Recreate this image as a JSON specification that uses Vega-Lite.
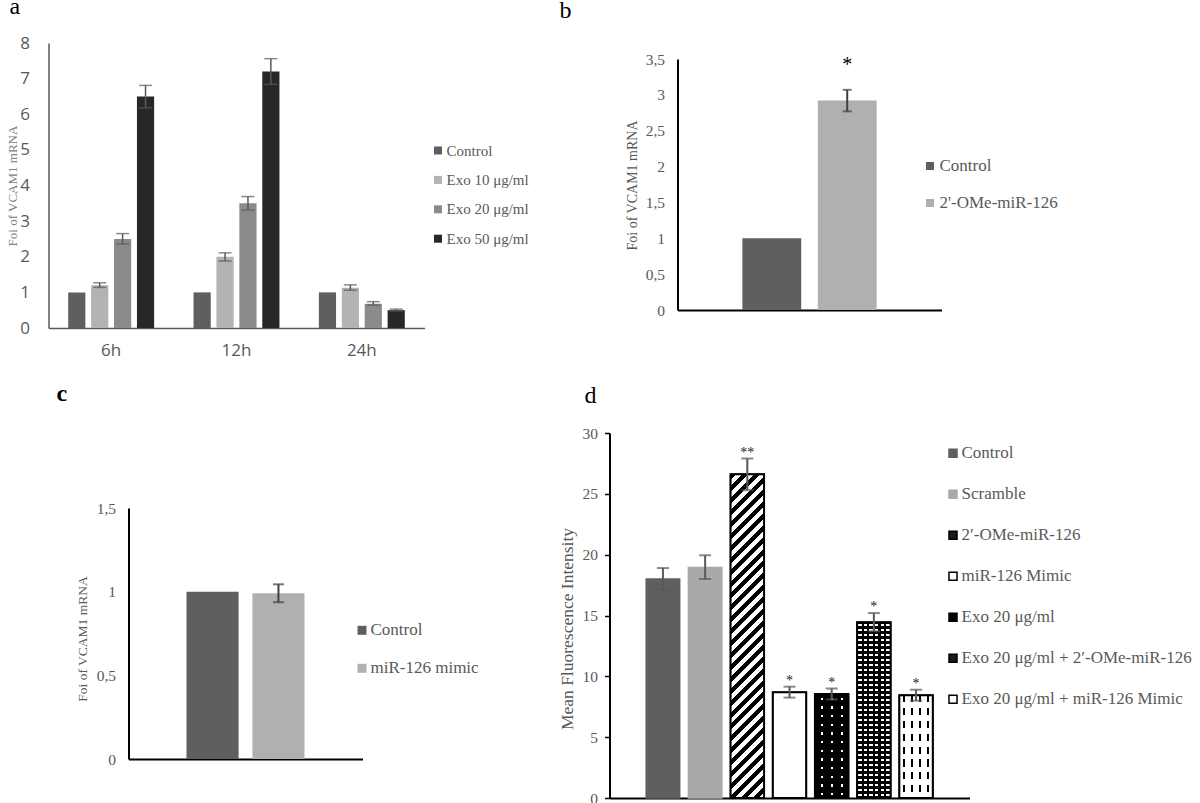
{
 "$schema": "https://vega.github.io/schema/vega-lite/v6.json",
 "background": "white",
 "padding": {"left": 6.5, "top": -6, "right": 0, "bottom": 0},
 "columns": 2,
 "spacing": {"row": 105, "column": 185},
 "bounds": "flush",
 "align": "each",
 "resolve": {"scale": {"color": "independent"}, "legend": {"color": "independent"}},
 "config": {
  "view": {"stroke": null},
  "axis": {"grid": false, "ticks": false, "labelFont": "Liberation Serif", "titleFont": "Liberation Serif", "titleFontWeight": "normal", "labelColor": "#595959", "titleColor": "#595959", "labelFontSize": 15.5, "domainColor": "#000", "domainWidth": 2},
  "legend": {"labelFont": "Liberation Serif", "labelColor": "#595959", "symbolType": "square", "padding": 0, "labelLimit": 0, "symbolStrokeWidth": 0},
  "title": {"font": "Liberation Serif", "fontWeight": "normal", "fontSize": 24, "anchor": "start", "frame": "group", "baseline": "alphabetic", "color": "#000"}
 },
 "concat": [
  {
   "width": 376, "height": 285,
   "title": {"text": "a", "dx": -39, "offset": 15.2},
   "data": {"values": [
    {"time": "6h", "group": "Control", "value": 1.0},
    {"time": "6h", "group": "Exo 10 μg/ml", "value": 1.2, "lo": 1.14, "hi": 1.27},
    {"time": "6h", "group": "Exo 20 μg/ml", "value": 2.5, "lo": 2.36, "hi": 2.65},
    {"time": "6h", "group": "Exo 50 μg/ml", "value": 6.5, "lo": 6.18, "hi": 6.81},
    {"time": "12h", "group": "Control", "value": 1.0},
    {"time": "12h", "group": "Exo 10 μg/ml", "value": 2.0, "lo": 1.88, "hi": 2.11},
    {"time": "12h", "group": "Exo 20 μg/ml", "value": 3.5, "lo": 3.31, "hi": 3.69},
    {"time": "12h", "group": "Exo 50 μg/ml", "value": 7.2, "lo": 6.84, "hi": 7.56},
    {"time": "24h", "group": "Control", "value": 1.0},
    {"time": "24h", "group": "Exo 10 μg/ml", "value": 1.13, "lo": 1.06, "hi": 1.21},
    {"time": "24h", "group": "Exo 20 μg/ml", "value": 0.68, "lo": 0.64, "hi": 0.74},
    {"time": "24h", "group": "Exo 50 μg/ml", "value": 0.5, "lo": 0.48, "hi": 0.53}
   ]},
   "encoding": {
    "x": {"field": "time", "type": "nominal", "sort": ["6h", "12h", "24h"], "scale": {"paddingInner": 0, "paddingOuter": 0}, "axis": {"title": null, "labelAngle": 0, "labelFont": "Open Sans", "labelFontSize": 17, "labelPadding": 14, "domainColor": "#595959", "domainWidth": 1.5}},
    "xOffset": {"field": "group", "type": "nominal", "sort": ["Control", "Exo 10 μg/ml", "Exo 20 μg/ml", "Exo 50 μg/ml"], "scale": {"paddingInner": 0.25, "paddingOuter": 0.86}},
    "y": {"field": "value", "type": "quantitative", "title": "Foi of VCAM1 mRNA", "scale": {"domain": [0, 8]}, "axis": {"title": "Foi of VCAM1 mRNA", "values": [0, 1, 2, 3, 4, 5, 6, 7, 8], "labelFont": "Open Sans", "labelFontSize": 17, "labelPadding": 19, "domainColor": "#595959", "domainWidth": 1.5, "titleFontSize": 13, "titleColor": "#808080", "titleX": -36, "titleY": 142.5, "titleAngle": -90, "titleAlign": "center", "titleBaseline": "middle"}}
   },
   "layer": [
    {"mark": {"type": "bar"}, "encoding": {
      "color": {"field": "group", "type": "nominal", "scale": {"domain": ["Control", "Exo 10 μg/ml", "Exo 20 μg/ml", "Exo 50 μg/ml"], "range": ["#5f5f5f", "#b3b3b3", "#8b8b8b", "#272727"]}, "legend": {"title": null, "orient": "none", "legendX": 382, "legendY": 100, "labelFontSize": 15, "symbolSize": 64, "rowPadding": 13.4, "labelOffset": 1}}
    }},
    {"mark": {"type": "rule", "color": "#595959", "strokeWidth": 1.5}, "encoding": {"y": {"field": "lo", "type": "quantitative", "title": "Foi of VCAM1 mRNA"}, "y2": {"field": "hi"}}},
    {"mark": {"type": "tick", "color": "#595959", "thickness": 1.5, "size": 13, "orient": "horizontal"}, "encoding": {"y": {"field": "hi", "type": "quantitative", "title": "Foi of VCAM1 mRNA"}}},
    {"mark": {"type": "tick", "color": "#595959", "thickness": 1.5, "size": 13, "orient": "horizontal"}, "encoding": {"y": {"field": "lo", "type": "quantitative", "title": "Foi of VCAM1 mRNA"}}}
   ]
  },
  {
   "width": 332, "height": 267,
   "title": {"text": "b", "dx": -50, "offset": 20},
   "data": {"values": [
    {"group": "Control", "value": 1.0},
    {"group": "\u00a02'-OMe-miR-126", "value": 2.92, "lo": 2.77, "hi": 3.07, "star": "*"}
   ]},
   "encoding": {
    "x": {"field": "group", "type": "nominal", "sort": null, "scale": {"range": [68, 332], "paddingInner": 0.22, "paddingOuter": 0.86}, "axis": {"title": null, "labels": false, "ticks": false}},
    "y": {"field": "value", "type": "quantitative", "title": "Foi of VCAM1 mRNA", "scale": {"domain": [0, 3.5], "range": [267, 16]}, "axis": {"title": "Foi of VCAM1 mRNA", "offset": -68, "values": [0, 0.5, 1, 1.5, 2, 2.5, 3, 3.5], "format": "~g", "labelExpr": "replace(datum.label, '.', ',')", "labelPadding": 13, "titleFontSize": 14, "titleX": -45, "titleY": 142, "titleAngle": -90, "titleAlign": "center", "titleBaseline": "middle"}}
   },
   "layer": [
    {"mark": {"type": "bar"}, "encoding": {
      "color": {"field": "group", "type": "nominal", "scale": {"domain": ["Control", "\u00a02'-OMe-miR-126"], "range": ["#5f5f5f", "#b0b0b0"]}, "legend": {"title": null, "orient": "none", "legendX": 312, "legendY": 114.5, "labelFontSize": 17, "symbolSize": 64, "rowPadding": 19, "labelOffset": 1}}
    }},
    {"mark": {"type": "rule", "color": "#404040", "strokeWidth": 2}, "encoding": {"y": {"field": "lo", "type": "quantitative", "title": "Foi of VCAM1 mRNA"}, "y2": {"field": "hi"}}},
    {"mark": {"type": "tick", "color": "#404040", "thickness": 2, "size": 9, "orient": "horizontal"}, "encoding": {"y": {"field": "hi", "type": "quantitative", "title": "Foi of VCAM1 mRNA"}}},
    {"mark": {"type": "tick", "color": "#404040", "thickness": 2, "size": 9, "orient": "horizontal"}, "encoding": {"y": {"field": "lo", "type": "quantitative", "title": "Foi of VCAM1 mRNA"}}},
    {"mark": {"type": "text", "font": "Liberation Serif", "fontSize": 20, "fill": "#000", "baseline": "middle", "dy": -25}, "encoding": {"y": {"field": "hi", "type": "quantitative", "title": "Foi of VCAM1 mRNA"}, "text": {"field": "star"}}}
   ]
  },
  {
   "width": 314, "height": 326,
   "title": {"text": "c", "dx": 8, "offset": 27, "fontWeight": "bold"},
   "data": {"values": [
    {"group": "Control", "value": 1.0},
    {"group": "\u00a0miR-126 mimic", "value": 0.99, "lo": 0.937, "hi": 1.044}
   ]},
   "encoding": {
    "x": {"field": "group", "type": "nominal", "sort": null, "scale": {"range": [80, 314], "paddingInner": 0.21, "paddingOuter": 0.88}, "axis": {"title": null, "labels": false, "ticks": false}},
    "y": {"field": "value", "type": "quantitative", "title": "Foi of VCAM1 mRNA", "scale": {"domain": [0, 1.5], "range": [326, 75]}, "axis": {"title": "Foi of VCAM1 mRNA", "offset": -80, "values": [0, 0.5, 1, 1.5], "format": "~g", "labelExpr": "replace(datum.label, '.', ',')", "labelPadding": 13, "titleFontSize": 13.5, "titleX": -46, "titleY": 205.5, "titleAngle": -90, "titleAlign": "center", "titleBaseline": "middle"}}
   },
   "layer": [
    {"mark": {"type": "bar"}, "encoding": {
      "color": {"field": "group", "type": "nominal", "scale": {"domain": ["Control", "\u00a0miR-126 mimic"], "range": ["#5f5f5f", "#b0b0b0"]}, "legend": {"title": null, "orient": "none", "legendX": 305, "legendY": 188.8, "labelFontSize": 17, "symbolSize": 81, "rowPadding": 20, "labelOffset": 0}}
    }},
    {"mark": {"type": "rule", "color": "#404040", "strokeWidth": 2}, "encoding": {"y": {"field": "lo", "type": "quantitative", "title": "Foi of VCAM1 mRNA"}, "y2": {"field": "hi"}}},
    {"mark": {"type": "tick", "color": "#404040", "thickness": 2, "size": 11, "orient": "horizontal"}, "encoding": {"y": {"field": "hi", "type": "quantitative", "title": "Foi of VCAM1 mRNA"}}},
    {"mark": {"type": "tick", "color": "#404040", "thickness": 2, "size": 11, "orient": "horizontal"}, "encoding": {"y": {"field": "lo", "type": "quantitative", "title": "Foi of VCAM1 mRNA"}}}
   ]
  },
  {
   "width": 360, "height": 365,
   "title": {"text": "d", "dx": -25, "offset": 18.4},
   "data": {"values": [
    {"group": "Control", "value": 18.0, "lo": 17.1, "hi": 18.9, "star": ""},
    {"group": "Scramble", "value": 18.95, "lo": 18.0, "hi": 19.95, "star": ""},
    {"group": "\u00a02′-OMe-miR-126", "value": 26.6, "lo": 25.3, "hi": 27.9, "star": "**"},
    {"group": "miR-126 Mimic", "value": 8.7, "lo": 8.25, "hi": 9.15, "star": "*"},
    {"group": "Exo 20 μg/ml", "value": 8.55, "lo": 8.1, "hi": 9.0, "star": "*"},
    {"group": "Exo 20 μg/ml + 2′-OMe-miR-126", "value": 14.45, "lo": 13.7, "hi": 15.2, "star": "*"},
    {"group": "Exo 20 μg/ml + miR-126 Mimic", "value": 8.45, "lo": 8.0, "hi": 8.9, "star": "*"}
   ]},
   "encoding": {
    "x": {"field": "group", "type": "nominal", "sort": null, "scale": {"paddingInner": 0.206, "paddingOuter": 0.87}, "axis": {"title": null, "labels": false, "ticks": false}},
    "y": {"field": "value", "type": "quantitative", "title": "Mean Fluorescence Intensity", "scale": {"domain": [0, 30]}, "axis": {"title": "Mean Fluorescence Intensity", "values": [0, 5, 10, 15, 20, 25, 30], "ticks": true, "tickSize": 5, "tickColor": "#000", "tickWidth": 1.5, "labelPadding": 7, "titleFontSize": 17.5, "titleX": -42, "titleY": 195.5, "titleAngle": -90, "titleAlign": "center", "titleBaseline": "middle"}}
   },
   "layer": [
    {"mark": {"type": "bar", "strokeWidth": 1.5}, "encoding": {
      "fill": {"field": "group", "type": "nominal", "scale": {"domain": ["Control", "Scramble", "\u00a02′-OMe-miR-126", "miR-126 Mimic", "Exo 20 μg/ml", "Exo 20 μg/ml + 2′-OMe-miR-126", "Exo 20 μg/ml + miR-126 Mimic"], "range": ["#5f5f5f", "#a9a9a9", "#1a1a1a", "#ffffff", "#000000", "#1a1a1a", "#ffffff"]}, "legend": {"title": null, "orient": "none", "legendX": 896, "legendY": 401.7, "labelFontSize": 17, "symbolSize": 64, "rowPadding": 23, "labelOffset": 0, "symbolStrokeWidth": 1.5}},
      "stroke": {"field": "group", "type": "nominal", "scale": {"domain": ["Control", "Scramble", "\u00a02′-OMe-miR-126", "miR-126 Mimic", "Exo 20 μg/ml", "Exo 20 μg/ml + 2′-OMe-miR-126", "Exo 20 μg/ml + miR-126 Mimic"], "range": ["#5f5f5f", "#a9a9a9", "#000000", "#000000", "#000000", "#000000", "#000000"]}, "legend": {"title": null, "orient": "none", "legendX": 896, "legendY": 401.7, "labelFontSize": 17, "symbolSize": 64, "rowPadding": 23, "labelOffset": 0, "symbolStrokeWidth": 1.5}}
    }},
    {"transform": [{"filter": {"field": "group", "equal": "\u00a02′-OMe-miR-126"}}],
     "mark": {"type": "bar", "fill": {"gradient": "linear", "x1": 0, "y1": 0, "x2": 0.113, "y2": 1.092, "stops": [
      {"offset":0,"color":"#000"},
      {"offset":0.0167,"color":"#000"},{"offset":0.0167,"color":"#fff"},
      {"offset":0.0333,"color":"#fff"},{"offset":0.0333,"color":"#000"},
      {"offset":0.05,"color":"#000"},{"offset":0.05,"color":"#fff"},
      {"offset":0.0667,"color":"#fff"},{"offset":0.0667,"color":"#000"},
      {"offset":0.0833,"color":"#000"},{"offset":0.0833,"color":"#fff"},
      {"offset":0.1,"color":"#fff"},{"offset":0.1,"color":"#000"},
      {"offset":0.1167,"color":"#000"},{"offset":0.1167,"color":"#fff"},
      {"offset":0.1333,"color":"#fff"},{"offset":0.1333,"color":"#000"},
      {"offset":0.15,"color":"#000"},{"offset":0.15,"color":"#fff"},
      {"offset":0.1667,"color":"#fff"},{"offset":0.1667,"color":"#000"},
      {"offset":0.1833,"color":"#000"},{"offset":0.1833,"color":"#fff"},
      {"offset":0.2,"color":"#fff"},{"offset":0.2,"color":"#000"},
      {"offset":0.2167,"color":"#000"},{"offset":0.2167,"color":"#fff"},
      {"offset":0.2333,"color":"#fff"},{"offset":0.2333,"color":"#000"},
      {"offset":0.25,"color":"#000"},{"offset":0.25,"color":"#fff"},
      {"offset":0.2667,"color":"#fff"},{"offset":0.2667,"color":"#000"},
      {"offset":0.2833,"color":"#000"},{"offset":0.2833,"color":"#fff"},
      {"offset":0.3,"color":"#fff"},{"offset":0.3,"color":"#000"},
      {"offset":0.3167,"color":"#000"},{"offset":0.3167,"color":"#fff"},
      {"offset":0.3333,"color":"#fff"},{"offset":0.3333,"color":"#000"},
      {"offset":0.35,"color":"#000"},{"offset":0.35,"color":"#fff"},
      {"offset":0.3667,"color":"#fff"},{"offset":0.3667,"color":"#000"},
      {"offset":0.3833,"color":"#000"},{"offset":0.3833,"color":"#fff"},
      {"offset":0.4,"color":"#fff"},{"offset":0.4,"color":"#000"},
      {"offset":0.4167,"color":"#000"},{"offset":0.4167,"color":"#fff"},
      {"offset":0.4333,"color":"#fff"},{"offset":0.4333,"color":"#000"},
      {"offset":0.45,"color":"#000"},{"offset":0.45,"color":"#fff"},
      {"offset":0.4667,"color":"#fff"},{"offset":0.4667,"color":"#000"},
      {"offset":0.4833,"color":"#000"},{"offset":0.4833,"color":"#fff"},
      {"offset":0.5,"color":"#fff"},{"offset":0.5,"color":"#000"},
      {"offset":0.5167,"color":"#000"},{"offset":0.5167,"color":"#fff"},
      {"offset":0.5333,"color":"#fff"},{"offset":0.5333,"color":"#000"},
      {"offset":0.55,"color":"#000"},{"offset":0.55,"color":"#fff"},
      {"offset":0.5667,"color":"#fff"},{"offset":0.5667,"color":"#000"},
      {"offset":0.5833,"color":"#000"},{"offset":0.5833,"color":"#fff"},
      {"offset":0.6,"color":"#fff"},{"offset":0.6,"color":"#000"},
      {"offset":0.6167,"color":"#000"},{"offset":0.6167,"color":"#fff"},
      {"offset":0.6333,"color":"#fff"},{"offset":0.6333,"color":"#000"},
      {"offset":0.65,"color":"#000"},{"offset":0.65,"color":"#fff"},
      {"offset":0.6667,"color":"#fff"},{"offset":0.6667,"color":"#000"},
      {"offset":0.6833,"color":"#000"},{"offset":0.6833,"color":"#fff"},
      {"offset":0.7,"color":"#fff"},{"offset":0.7,"color":"#000"},
      {"offset":0.7167,"color":"#000"},{"offset":0.7167,"color":"#fff"},
      {"offset":0.7333,"color":"#fff"},{"offset":0.7333,"color":"#000"},
      {"offset":0.75,"color":"#000"},{"offset":0.75,"color":"#fff"},
      {"offset":0.7667,"color":"#fff"},{"offset":0.7667,"color":"#000"},
      {"offset":0.7833,"color":"#000"},{"offset":0.7833,"color":"#fff"},
      {"offset":0.8,"color":"#fff"},{"offset":0.8,"color":"#000"},
      {"offset":0.8167,"color":"#000"},{"offset":0.8167,"color":"#fff"},
      {"offset":0.8333,"color":"#fff"},{"offset":0.8333,"color":"#000"},
      {"offset":0.85,"color":"#000"},{"offset":0.85,"color":"#fff"},
      {"offset":0.8667,"color":"#fff"},{"offset":0.8667,"color":"#000"},
      {"offset":0.8833,"color":"#000"},{"offset":0.8833,"color":"#fff"},
      {"offset":0.9,"color":"#fff"},{"offset":0.9,"color":"#000"},
      {"offset":0.9167,"color":"#000"},{"offset":0.9167,"color":"#fff"},
      {"offset":0.9333,"color":"#fff"},{"offset":0.9333,"color":"#000"},
      {"offset":0.95,"color":"#000"},{"offset":0.95,"color":"#fff"},
      {"offset":0.9667,"color":"#fff"},{"offset":0.9667,"color":"#000"},
      {"offset":0.9833,"color":"#000"},{"offset":0.9833,"color":"#fff"},
      {"offset":1,"color":"#fff"}
     ]}}},
    {"transform": [{"filter": {"field": "group", "equal": "Exo 20 μg/ml"}}],
     "mark": {"type": "bar", "fill": {"gradient": "linear", "x1": 0, "y1": 0, "x2": 1, "y2": 0, "stops": [
      {"offset":0,"color":"#000"},{"offset":0.179,"color":"#000"},{"offset":0.179,"color":"#fff"},{"offset":0.239,"color":"#fff"},{"offset":0.239,"color":"#000"},
      {"offset":0.478,"color":"#000"},{"offset":0.478,"color":"#fff"},{"offset":0.537,"color":"#fff"},{"offset":0.537,"color":"#000"},
      {"offset":0.776,"color":"#000"},{"offset":0.776,"color":"#fff"},{"offset":0.836,"color":"#fff"},{"offset":0.836,"color":"#000"},{"offset":1,"color":"#000"}
     ]}}},
    {"transform": [{"filter": {"field": "group", "equal": "Exo 20 μg/ml"}}],
     "mark": {"type": "bar", "fill": {"gradient": "linear", "x1": 0, "y1": 0, "x2": 0, "y2": 1, "stops": [
      {"offset":0,"color":"#000"},
      {"offset":0.035,"color":"#000"},{"offset":0.035,"color":"rgba(0,0,0,0)"},{"offset":0.057,"color":"rgba(0,0,0,0)"},{"offset":0.057,"color":"#000"},
      {"offset":0.1183,"color":"#000"},{"offset":0.1183,"color":"rgba(0,0,0,0)"},{"offset":0.1403,"color":"rgba(0,0,0,0)"},{"offset":0.1403,"color":"#000"},
      {"offset":0.2017,"color":"#000"},{"offset":0.2017,"color":"rgba(0,0,0,0)"},{"offset":0.2237,"color":"rgba(0,0,0,0)"},{"offset":0.2237,"color":"#000"},
      {"offset":0.285,"color":"#000"},{"offset":0.285,"color":"rgba(0,0,0,0)"},{"offset":0.307,"color":"rgba(0,0,0,0)"},{"offset":0.307,"color":"#000"},
      {"offset":0.3683,"color":"#000"},{"offset":0.3683,"color":"rgba(0,0,0,0)"},{"offset":0.3903,"color":"rgba(0,0,0,0)"},{"offset":0.3903,"color":"#000"},
      {"offset":0.4517,"color":"#000"},{"offset":0.4517,"color":"rgba(0,0,0,0)"},{"offset":0.4737,"color":"rgba(0,0,0,0)"},{"offset":0.4737,"color":"#000"},
      {"offset":0.535,"color":"#000"},{"offset":0.535,"color":"rgba(0,0,0,0)"},{"offset":0.557,"color":"rgba(0,0,0,0)"},{"offset":0.557,"color":"#000"},
      {"offset":0.6183,"color":"#000"},{"offset":0.6183,"color":"rgba(0,0,0,0)"},{"offset":0.6403,"color":"rgba(0,0,0,0)"},{"offset":0.6403,"color":"#000"},
      {"offset":0.7017,"color":"#000"},{"offset":0.7017,"color":"rgba(0,0,0,0)"},{"offset":0.7237,"color":"rgba(0,0,0,0)"},{"offset":0.7237,"color":"#000"},
      {"offset":0.785,"color":"#000"},{"offset":0.785,"color":"rgba(0,0,0,0)"},{"offset":0.807,"color":"rgba(0,0,0,0)"},{"offset":0.807,"color":"#000"},
      {"offset":0.8683,"color":"#000"},{"offset":0.8683,"color":"rgba(0,0,0,0)"},{"offset":0.8903,"color":"rgba(0,0,0,0)"},{"offset":0.8903,"color":"#000"},
      {"offset":0.9517,"color":"#000"},{"offset":0.9517,"color":"rgba(0,0,0,0)"},{"offset":0.9737,"color":"rgba(0,0,0,0)"},{"offset":0.9737,"color":"#000"},
      {"offset":1,"color":"#000"}
     ]}}},
    {"transform": [{"filter": {"field": "group", "equal": "Exo 20 μg/ml + 2′-OMe-miR-126"}}],
     "mark": {"type": "bar", "fill": {"gradient": "linear", "x1": 0, "y1": 0, "x2": 1, "y2": 0, "stops": [
      {"offset":0,"color":"#000"},
      {"offset":0.035,"color":"#000"},{"offset":0.035,"color":"#fff"},{"offset":0.135,"color":"#fff"},{"offset":0.135,"color":"#000"},
      {"offset":0.2017,"color":"#000"},{"offset":0.2017,"color":"#fff"},{"offset":0.3017,"color":"#fff"},{"offset":0.3017,"color":"#000"},
      {"offset":0.3683,"color":"#000"},{"offset":0.3683,"color":"#fff"},{"offset":0.4683,"color":"#fff"},{"offset":0.4683,"color":"#000"},
      {"offset":0.535,"color":"#000"},{"offset":0.535,"color":"#fff"},{"offset":0.635,"color":"#fff"},{"offset":0.635,"color":"#000"},
      {"offset":0.7017,"color":"#000"},{"offset":0.7017,"color":"#fff"},{"offset":0.8017,"color":"#fff"},{"offset":0.8017,"color":"#000"},
      {"offset":0.8683,"color":"#000"},{"offset":0.8683,"color":"#fff"},{"offset":0.9683,"color":"#fff"},{"offset":0.9683,"color":"#000"},
      {"offset":1,"color":"#000"}
     ]}}},
    {"transform": [{"filter": {"field": "group", "equal": "Exo 20 μg/ml + 2′-OMe-miR-126"}}],
     "mark": {"type": "bar", "fill": {"gradient": "linear", "x1": 0, "y1": 0, "x2": 0, "y2": 1, "stops": [
      {"offset":0,"color":"#000"},
      {"offset":0.008,"color":"#000"},{"offset":0.008,"color":"rgba(0,0,0,0)"},{"offset":0.02,"color":"rgba(0,0,0,0)"},{"offset":0.02,"color":"#000"},
      {"offset":0.0366,"color":"#000"},{"offset":0.0366,"color":"rgba(0,0,0,0)"},{"offset":0.0486,"color":"rgba(0,0,0,0)"},{"offset":0.0486,"color":"#000"},
      {"offset":0.0651,"color":"#000"},{"offset":0.0651,"color":"rgba(0,0,0,0)"},{"offset":0.0771,"color":"rgba(0,0,0,0)"},{"offset":0.0771,"color":"#000"},
      {"offset":0.0937,"color":"#000"},{"offset":0.0937,"color":"rgba(0,0,0,0)"},{"offset":0.1057,"color":"rgba(0,0,0,0)"},{"offset":0.1057,"color":"#000"},
      {"offset":0.1223,"color":"#000"},{"offset":0.1223,"color":"rgba(0,0,0,0)"},{"offset":0.1343,"color":"rgba(0,0,0,0)"},{"offset":0.1343,"color":"#000"},
      {"offset":0.1509,"color":"#000"},{"offset":0.1509,"color":"rgba(0,0,0,0)"},{"offset":0.1629,"color":"rgba(0,0,0,0)"},{"offset":0.1629,"color":"#000"},
      {"offset":0.1794,"color":"#000"},{"offset":0.1794,"color":"rgba(0,0,0,0)"},{"offset":0.1914,"color":"rgba(0,0,0,0)"},{"offset":0.1914,"color":"#000"},
      {"offset":0.208,"color":"#000"},{"offset":0.208,"color":"rgba(0,0,0,0)"},{"offset":0.22,"color":"rgba(0,0,0,0)"},{"offset":0.22,"color":"#000"},
      {"offset":0.2366,"color":"#000"},{"offset":0.2366,"color":"rgba(0,0,0,0)"},{"offset":0.2486,"color":"rgba(0,0,0,0)"},{"offset":0.2486,"color":"#000"},
      {"offset":0.2651,"color":"#000"},{"offset":0.2651,"color":"rgba(0,0,0,0)"},{"offset":0.2771,"color":"rgba(0,0,0,0)"},{"offset":0.2771,"color":"#000"},
      {"offset":0.2937,"color":"#000"},{"offset":0.2937,"color":"rgba(0,0,0,0)"},{"offset":0.3057,"color":"rgba(0,0,0,0)"},{"offset":0.3057,"color":"#000"},
      {"offset":0.3223,"color":"#000"},{"offset":0.3223,"color":"rgba(0,0,0,0)"},{"offset":0.3343,"color":"rgba(0,0,0,0)"},{"offset":0.3343,"color":"#000"},
      {"offset":0.3509,"color":"#000"},{"offset":0.3509,"color":"rgba(0,0,0,0)"},{"offset":0.3629,"color":"rgba(0,0,0,0)"},{"offset":0.3629,"color":"#000"},
      {"offset":0.3794,"color":"#000"},{"offset":0.3794,"color":"rgba(0,0,0,0)"},{"offset":0.3914,"color":"rgba(0,0,0,0)"},{"offset":0.3914,"color":"#000"},
      {"offset":0.408,"color":"#000"},{"offset":0.408,"color":"rgba(0,0,0,0)"},{"offset":0.42,"color":"rgba(0,0,0,0)"},{"offset":0.42,"color":"#000"},
      {"offset":0.4366,"color":"#000"},{"offset":0.4366,"color":"rgba(0,0,0,0)"},{"offset":0.4486,"color":"rgba(0,0,0,0)"},{"offset":0.4486,"color":"#000"},
      {"offset":0.4651,"color":"#000"},{"offset":0.4651,"color":"rgba(0,0,0,0)"},{"offset":0.4771,"color":"rgba(0,0,0,0)"},{"offset":0.4771,"color":"#000"},
      {"offset":0.4937,"color":"#000"},{"offset":0.4937,"color":"rgba(0,0,0,0)"},{"offset":0.5057,"color":"rgba(0,0,0,0)"},{"offset":0.5057,"color":"#000"},
      {"offset":0.5223,"color":"#000"},{"offset":0.5223,"color":"rgba(0,0,0,0)"},{"offset":0.5343,"color":"rgba(0,0,0,0)"},{"offset":0.5343,"color":"#000"},
      {"offset":0.5509,"color":"#000"},{"offset":0.5509,"color":"rgba(0,0,0,0)"},{"offset":0.5629,"color":"rgba(0,0,0,0)"},{"offset":0.5629,"color":"#000"},
      {"offset":0.5794,"color":"#000"},{"offset":0.5794,"color":"rgba(0,0,0,0)"},{"offset":0.5914,"color":"rgba(0,0,0,0)"},{"offset":0.5914,"color":"#000"},
      {"offset":0.608,"color":"#000"},{"offset":0.608,"color":"rgba(0,0,0,0)"},{"offset":0.62,"color":"rgba(0,0,0,0)"},{"offset":0.62,"color":"#000"},
      {"offset":0.6366,"color":"#000"},{"offset":0.6366,"color":"rgba(0,0,0,0)"},{"offset":0.6486,"color":"rgba(0,0,0,0)"},{"offset":0.6486,"color":"#000"},
      {"offset":0.6651,"color":"#000"},{"offset":0.6651,"color":"rgba(0,0,0,0)"},{"offset":0.6771,"color":"rgba(0,0,0,0)"},{"offset":0.6771,"color":"#000"},
      {"offset":0.6937,"color":"#000"},{"offset":0.6937,"color":"rgba(0,0,0,0)"},{"offset":0.7057,"color":"rgba(0,0,0,0)"},{"offset":0.7057,"color":"#000"},
      {"offset":0.7223,"color":"#000"},{"offset":0.7223,"color":"rgba(0,0,0,0)"},{"offset":0.7343,"color":"rgba(0,0,0,0)"},{"offset":0.7343,"color":"#000"},
      {"offset":0.7509,"color":"#000"},{"offset":0.7509,"color":"rgba(0,0,0,0)"},{"offset":0.7629,"color":"rgba(0,0,0,0)"},{"offset":0.7629,"color":"#000"},
      {"offset":0.7794,"color":"#000"},{"offset":0.7794,"color":"rgba(0,0,0,0)"},{"offset":0.7914,"color":"rgba(0,0,0,0)"},{"offset":0.7914,"color":"#000"},
      {"offset":0.808,"color":"#000"},{"offset":0.808,"color":"rgba(0,0,0,0)"},{"offset":0.82,"color":"rgba(0,0,0,0)"},{"offset":0.82,"color":"#000"},
      {"offset":0.8366,"color":"#000"},{"offset":0.8366,"color":"rgba(0,0,0,0)"},{"offset":0.8486,"color":"rgba(0,0,0,0)"},{"offset":0.8486,"color":"#000"},
      {"offset":0.8651,"color":"#000"},{"offset":0.8651,"color":"rgba(0,0,0,0)"},{"offset":0.8771,"color":"rgba(0,0,0,0)"},{"offset":0.8771,"color":"#000"},
      {"offset":0.8937,"color":"#000"},{"offset":0.8937,"color":"rgba(0,0,0,0)"},{"offset":0.9057,"color":"rgba(0,0,0,0)"},{"offset":0.9057,"color":"#000"},
      {"offset":0.9223,"color":"#000"},{"offset":0.9223,"color":"rgba(0,0,0,0)"},{"offset":0.9343,"color":"rgba(0,0,0,0)"},{"offset":0.9343,"color":"#000"},
      {"offset":0.9509,"color":"#000"},{"offset":0.9509,"color":"rgba(0,0,0,0)"},{"offset":0.9629,"color":"rgba(0,0,0,0)"},{"offset":0.9629,"color":"#000"},
      {"offset":0.9794,"color":"#000"},{"offset":0.9794,"color":"rgba(0,0,0,0)"},{"offset":0.9914,"color":"rgba(0,0,0,0)"},{"offset":0.9914,"color":"#000"},
      {"offset":1,"color":"#000"}
     ]}}},
    {"transform": [{"filter": {"field": "group", "equal": "Exo 20 μg/ml + miR-126 Mimic"}}],
     "mark": {"type": "bar", "fill": {"gradient": "linear", "x1": 0, "y1": 0, "x2": 1, "y2": 0, "stops": [
      {"offset":0,"color":"rgba(0,0,0,0)"},
      {"offset":0.12,"color":"rgba(0,0,0,0)"},{"offset":0.12,"color":"#000"},{"offset":0.18,"color":"#000"},{"offset":0.18,"color":"rgba(0,0,0,0)"},
      {"offset":0.35,"color":"rgba(0,0,0,0)"},{"offset":0.35,"color":"#000"},{"offset":0.41,"color":"#000"},{"offset":0.41,"color":"rgba(0,0,0,0)"},
      {"offset":0.59,"color":"rgba(0,0,0,0)"},{"offset":0.59,"color":"#000"},{"offset":0.65,"color":"#000"},{"offset":0.65,"color":"rgba(0,0,0,0)"},
      {"offset":0.82,"color":"rgba(0,0,0,0)"},{"offset":0.82,"color":"#000"},{"offset":0.88,"color":"#000"},{"offset":0.88,"color":"rgba(0,0,0,0)"},
      {"offset":1,"color":"rgba(0,0,0,0)"}
     ]}}},
    {"transform": [{"filter": {"field": "group", "equal": "Exo 20 μg/ml + miR-126 Mimic"}}],
     "mark": {"type": "bar", "fill": {"gradient": "linear", "x1": 0, "y1": 0, "x2": 0, "y2": 1, "stops": [
      {"offset":0,"color":"rgba(0,0,0,0)"},
      {"offset":0.07,"color":"rgba(0,0,0,0)"},{"offset":0.07,"color":"#fff"},{"offset":0.125,"color":"#fff"},{"offset":0.125,"color":"rgba(0,0,0,0)"},
      {"offset":0.195,"color":"rgba(0,0,0,0)"},{"offset":0.195,"color":"#fff"},{"offset":0.25,"color":"#fff"},{"offset":0.25,"color":"rgba(0,0,0,0)"},
      {"offset":0.32,"color":"rgba(0,0,0,0)"},{"offset":0.32,"color":"#fff"},{"offset":0.375,"color":"#fff"},{"offset":0.375,"color":"rgba(0,0,0,0)"},
      {"offset":0.445,"color":"rgba(0,0,0,0)"},{"offset":0.445,"color":"#fff"},{"offset":0.5,"color":"#fff"},{"offset":0.5,"color":"rgba(0,0,0,0)"},
      {"offset":0.57,"color":"rgba(0,0,0,0)"},{"offset":0.57,"color":"#fff"},{"offset":0.625,"color":"#fff"},{"offset":0.625,"color":"rgba(0,0,0,0)"},
      {"offset":0.695,"color":"rgba(0,0,0,0)"},{"offset":0.695,"color":"#fff"},{"offset":0.75,"color":"#fff"},{"offset":0.75,"color":"rgba(0,0,0,0)"},
      {"offset":0.82,"color":"rgba(0,0,0,0)"},{"offset":0.82,"color":"#fff"},{"offset":0.875,"color":"#fff"},{"offset":0.875,"color":"rgba(0,0,0,0)"},
      {"offset":0.945,"color":"rgba(0,0,0,0)"},{"offset":0.945,"color":"#fff"},{"offset":1,"color":"#fff"}
     ]}}},
    {"transform": [{"filter": {"field": "group", "oneOf": ["\u00a02′-OMe-miR-126", "miR-126 Mimic", "Exo 20 μg/ml", "Exo 20 μg/ml + 2′-OMe-miR-126", "Exo 20 μg/ml + miR-126 Mimic"]}}],
     "mark": {"type": "bar", "fill": "transparent", "stroke": "#000", "strokeWidth": 2}},
    {"mark": {"type": "rule", "color": "#595959", "strokeWidth": 2}, "encoding": {"y": {"field": "lo", "type": "quantitative", "title": "Mean Fluorescence Intensity"}, "y2": {"field": "hi"}}},
    {"mark": {"type": "tick", "color": "#595959", "thickness": 2, "size": 12, "orient": "horizontal"}, "encoding": {"y": {"field": "hi", "type": "quantitative", "title": "Mean Fluorescence Intensity"}}},
    {"mark": {"type": "tick", "color": "#595959", "thickness": 2, "size": 12, "orient": "horizontal"}, "encoding": {"y": {"field": "lo", "type": "quantitative", "title": "Mean Fluorescence Intensity"}}},
    {"mark": {"type": "text", "font": "Liberation Serif", "fontSize": 14, "fill": "#222", "baseline": "middle", "dy": -6}, "encoding": {"y": {"field": "hi", "type": "quantitative", "title": "Mean Fluorescence Intensity"}, "text": {"field": "star"}}}
   ]
  }
 ]
}
